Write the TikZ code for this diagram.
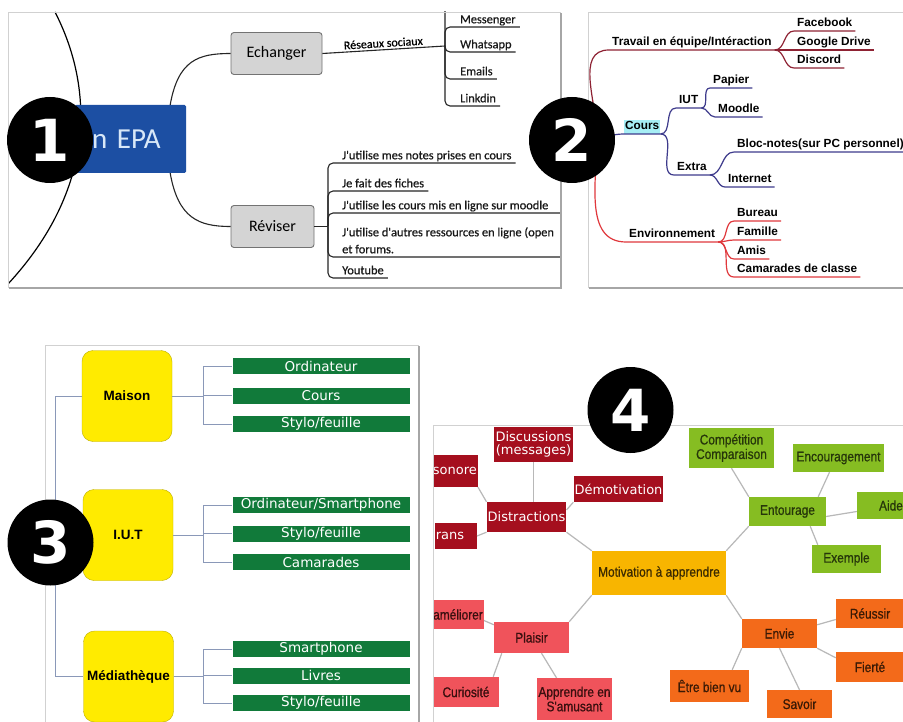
\documentclass[tikz,border=0pt]{standalone}
\usepackage{fontspec}
\newfontfamily\carlito{Carlito}
\newfontfamily\carlitob[FakeBold=0.6]{Carlito}
\newfontfamily\arial{Liberation Sans}
\newfontfamily\arialn[FakeStretch=0.85,FakeBold=0.8]{Liberation Sans}
\newfontfamily\dejavu{DejaVu Sans}
\definecolor{epablue}{HTML}{1C4FA3}
\definecolor{epatext}{HTML}{D8E8F8}
\definecolor{travred}{HTML}{8E2233}
\definecolor{coursblue}{HTML}{3E3B8C}
\definecolor{envred}{HTML}{E0383C}
\definecolor{coursbg}{HTML}{A6EEF5}
\definecolor{yel3}{HTML}{FFEB00}
\definecolor{grn3}{HTML}{117A3A}
\definecolor{link3c}{HTML}{8A98B8}
\definecolor{red4c}{HTML}{A50F1E}
\definecolor{grn4c}{HTML}{86BD22}
\definecolor{grn4t}{HTML}{26360A}
\definecolor{org4c}{HTML}{F36A1A}
\definecolor{org4t}{HTML}{3A1A05}
\definecolor{pnk4c}{HTML}{F0535B}
\definecolor{pnk4t}{HTML}{3A0F0F}
\definecolor{mot4c}{HTML}{F8B500}
\definecolor{mot4t}{HTML}{3B2A00}
\begin{document}
\begin{tikzpicture}[x=1pt,y=-1pt,
    sz/.style 2 args={minimum width=#1pt,minimum height=#2pt},
    frame/.style={draw=black!18,line width=0.8pt},
    shade/.style={draw=black!35,line width=1.6pt},
    num/.style={circle,fill=black,text=white,minimum size=86pt,inner sep=0pt,font=\dejavu\bfseries\fontsize{58}{58}\selectfont},
    link1/.style={draw=black!85,line width=1.1pt},
    gbox/.style={draw=black!55,fill=black!17,rounded corners=3pt,line width=0.9pt,font=\carlito\fontsize{16}{16}\selectfont},
    leaf1/.style={anchor=south west,inner xsep=4pt,inner ysep=1pt,text depth=2.5pt,text=black!90,font=\carlitob\fontsize{12.4}{17}\selectfont},
    leaf2/.style={anchor=south west,inner xsep=3pt,inner ysep=1.5pt,text depth=2.5pt,font=\arial\bfseries\fontsize{11.8}{11.8}\selectfont},
    trav/.style={draw=travred,line width=1.2pt},
    cour/.style={draw=coursblue,line width=1.2pt},
    envi/.style={draw=envred,line width=1.2pt},
    yel/.style={fill=yel3,draw=yel3!75!black,rounded corners=11pt,sz={90}{91},font=\arial\bfseries\fontsize{13.5}{13.5}\selectfont},
    grn/.style={fill=grn3,text=white,sz={177}{16},inner sep=0pt,font=\dejavu\fontsize{13.5}{13.5}\selectfont},
    link3/.style={draw=link3c,line width=1pt},
    box4/.style={inner sep=1pt,align=center,font=\arialn\fontsize{14}{14.5}\selectfont},
    red4/.style={box4,fill=red4c,text=white,font=\dejavu\fontsize{13}{12.5}\selectfont},
    mot4/.style={box4,fill=mot4c,text=mot4t},
    grn4/.style={box4,fill=grn4c,text=grn4t},
    org4/.style={box4,fill=org4c,text=org4t},
    pnk4/.style={box4,fill=pnk4c,text=pnk4t},
    link4/.style={draw=black!28,line width=1.2pt}]
\useasboundingbox (0,0) rectangle (903,722);
\fill[white] (0,0) rectangle (903,722);
\clip (0,0) rectangle (903,722);

\begin{scope}
\clip (8,12) rectangle (560,287);
\draw[line width=1.2pt] (55,12) .. controls (95,90) and (95,190) .. (8,284);
\node[fill=epablue,text=epatext,rounded corners=1.5pt,sz={111}{68},inner xsep=17pt,text width=77pt,align=left,font=\carlito\fontsize{29}{29}\selectfont] (epa) at (130.5,139) {n EPA};
\node[gbox,sz={91}{42}] (ech) at (276.5,53.5) {Echanger};
\node[gbox,sz={83}{42}] (rev) at (272.5,226.5) {Réviser};
\draw[link1] ([xshift=-16pt]epa.north east) .. controls +(8,-45) and +(-32,0) .. (ech.west);
\draw[link1] ([xshift=-16pt]epa.south east) .. controls +(8,45) and +(-32,0) .. (rev.west);
\coordinate (rs) at (445,46);
\draw[link1] (ech.east) -- node[above,sloped,inner sep=2pt,font=\carlitob\fontsize{12}{12}\selectfont] {Réseaux sociaux} (rs) -- (445,0);
\foreach \t/\y [count=\i] in {Messenger/27,Whatsapp/52,Emails/79,Linkdin/106}{
  \node[leaf1] (rs\i) at (456,\y) {\t};
  \draw[link1,rounded corners=5pt] (rs) |- (rs\i.south east);
}
\coordinate (rv) at (328,226.5);
\draw[link1] (rev.east) -- (rv);
\node[leaf1] (rv1) at (338,163) {J'utilise mes notes prises en cours};
\node[leaf1] (rv2) at (338,191) {Je fait des fiches};
\node[leaf1] (rv3) at (338,213) {J'utilise les cours mis en ligne sur moodle};
\node[leaf1,align=left] (rv4) at (338,257) {J'utilise d'autres ressources en ligne (open\\et forums.};
\node[leaf1] (rv5) at (338,278) {Youtube};
\foreach \i in {1,2,5} \draw[link1,rounded corners=5pt] (rv) |- (rv\i.south east);
\foreach \i in {3,4} \draw[link1,rounded corners=5pt] (rv) |- ([xshift=20pt]rv\i.south east);
\end{scope}
\draw[frame] (8,12) rectangle (560,287);
\draw[shade] (9,288) -- (561,288) -- (561,13);

\begin{scope}
\clip (588,12) rectangle (903,287);
\coordinate (r2) at (597,137);
\node[leaf2] (tra) at (609,50) {Travail en équipe/Intéraction};
\draw[trav] (r2) to[out=90,in=180] (tra.south west) -- (tra.south east);
\foreach \t/\y [count=\i] in {Facebook/31,Google Drive/50,Discord/68}{
  \node[leaf2] (tr\i) at (794,\y) {\t};
  \draw[trav] (tra.south east) to[out=0,in=180] (tr\i.south west) -- (tr\i.south east);
}
\node[leaf2,fill=coursbg,inner xsep=1pt] (cou) at (624,134) {Cours};
\draw[cour] (r2) to[out=0,in=180] (cou.south west) -- (cou.south east);
\node[leaf2] (iut) at (676,108) {IUT};
\node[leaf2] (ext) at (674,175) {Extra};
\foreach \n in {iut,ext} \draw[cour] (cou.south east) to[out=0,in=180] (\n.south west) -- (\n.south east);
\node[leaf2] (pap) at (710,88) {Papier};
\node[leaf2] (moo) at (715,117) {Moodle};
\foreach \n in {pap,moo} \draw[cour] (iut.south east) to[out=0,in=180] (\n.south west) -- (\n.south east);
\node[leaf2] (blo) at (734,152) {Bloc-notes(sur PC personnel)};
\node[leaf2] (int) at (725,187) {Internet};
\draw[cour] (ext.south east) to[out=0,in=180] (blo.south west) -- ([xshift=12pt]blo.south east);
\draw[cour] (ext.south east) to[out=0,in=180] (int.south west) -- (int.south east);
\node[leaf2] (env) at (626,242) {Environnement};
\draw[envi] (r2) to[out=-90,in=180] (env.south west) -- (env.south east);
\foreach \t/\y [count=\i] in {Bureau/221,Famille/240,Amis/259,Camarades de classe/277}{
  \node[leaf2] (en\i) at (734,\y) {\t};
  \draw[envi] (env.south east) to[out=0,in=180] (en\i.south west) -- (en\i.south east);
}
\end{scope}
\draw[frame] (588,12) rectangle (915,287);
\draw[shade] (589,288) -- (915,288);

\begin{scope}
\clip (45,345) rectangle (418,730);
\node[yel] (mai) at (127,396) {Maison};
\node[yel] (iub) at (128,535) {I.U.T};
\node[yel] (med) at (128.5,676.5) {Médiathèque};
\coordinate (sp) at (55,0);
\draw[link3] (mai.west) -- (mai.west -| sp) |- (med.west);
\draw[link3] (iub.west) -- (iub.west -| sp);
\foreach \t/\y [count=\i] in {Ordinateur/366,Cours/395.5,{Stylo/feuille}/424}{
  \node[grn] (m\i) at (321,\y) {\t};
  \draw[link3] (mai.east) -- ++(31,0) |- (m\i.west);
}
\foreach \t/\y [count=\i] in {{Ordinateur/Smartphone}/505,{Stylo/feuille}/533.5,Camarades/562}{
  \node[grn] (u\i) at (321,\y) {\t};
  \draw[link3] (iub.east) -- ++(30,0) |- (u\i.west);
}
\foreach \t/\y [count=\i] in {Smartphone/649,Livres/675.5,{Stylo/feuille}/703}{
  \node[grn] (d\i) at (321,\y) {\t};
  \draw[link3] (med.east) -- ++(30,0) |- (d\i.west);
}
\end{scope}
\draw[frame] (45,345) rectangle (418,735);
\draw[shade] (419,346) -- (419,735);

\begin{scope}
\clip (433,425) rectangle (920,730);
\node[mot4,sz={134}{44}] (mot) at (659,573) {Motivation à apprendre};
\node[red4,sz={79}{35}] (dis) at (533.5,444.5) {Discussions\\(messages)};
\node[red4,anchor=east,sz={10}{32}] (son) at (478,471) {sonore};
\node[red4,sz={85}{26}] (dem) at (618.5,489) {Démotivation};
\node[red4,sz={79}{30}] (dst) at (526.5,517) {Distractions};
\node[red4,anchor=east,text width=40pt,align=left,sz={10}{26}] (ran) at (477,536) {rans};
\node[pnk4,anchor=east,sz={10}{29}] (ame) at (484,614.5) {améliorer};
\node[pnk4,sz={75}{31}] (pla) at (531.5,637.5) {Plaisir};
\node[pnk4,sz={66}{30}] (cur) at (466,692) {Curiosité};
\node[pnk4,sz={75}{42}] (app) at (574.5,699) {Apprendre en\\S'amusant};
\node[grn4,sz={85}{40}] (com) at (731.5,448) {Compétition\\Comparaison};
\node[grn4,sz={91}{28}] (enc) at (838.5,458) {Encouragement};
\node[grn4,sz={77}{29}] (ent) at (787.5,511.5) {Entourage};
\node[grn4,sz={68}{27}] (aid) at (891,505.5) {Aide};
\node[grn4,sz={69}{28}] (exe) at (846.5,559) {Exemple};
\node[org4,sz={75}{29}] (evi) at (779.5,633.5) {Envie};
\node[org4,sz={68}{29}] (reu) at (870,613.5) {Réussir};
\node[org4,sz={68}{30}] (fie) at (870,667) {Fierté};
\node[org4,sz={79}{32}] (etr) at (709.5,686) {Être bien vu};
\node[org4,sz={65}{28}] (sav) at (799.5,704) {Savoir};
\draw[link4] (dst.south east) -- (mot.north west);
\draw[link4] (ent.south west) -- (mot.north east);
\draw[link4] (pla.north east) -- (mot.south west);
\draw[link4] (evi.north west) -- (mot.south east);
\draw[link4] (dis.south) -- (dis.south |- dst.north);
\draw[link4] (son.south east) -- (dst.north west);
\draw[link4] (ran.east) -- (dst.south west);
\draw[link4] (dst.10) -- (dem.south west);
\draw[link4] (com.south) -- (ent.north west);
\draw[link4] ([xshift=-9pt]enc.south) -- ([xshift=-8pt]ent.north east);
\draw[link4] ([yshift=-5pt]ent.east) -- ([yshift=-6pt]aid.west);
\draw[link4] ([xshift=-16pt]ent.south east) -- ([xshift=6pt]exe.north west);
\draw[link4] ([yshift=-6pt]evi.north east) -- ([yshift=-6pt]reu.west);
\draw[link4] (evi.south east) -- ([yshift=-6pt]fie.north west);
\draw[link4] (evi.south west) -- ([xshift=-17pt]etr.north east);
\draw[link4] (evi.south) -- (sav.north);
\draw[link4] ([yshift=-6pt]ame.east) -- ([yshift=-3pt]pla.north west);
\draw[link4] ([xshift=8pt]pla.south west) -- ([xshift=-6pt]cur.north east);
\draw[link4] ([xshift=10pt]pla.south) -- ([xshift=-18pt]app.north);
\end{scope}
\draw[frame] (433,425) rectangle (920,735);

\node[num] (n1) at (50,140) {1};
\node[num] (n2) at (572,140) {2};
\node[num] (n3) at (50.5,542.5) {3};
\node[num] (n4) at (630.5,410) {4};
\end{tikzpicture}
\end{document}
